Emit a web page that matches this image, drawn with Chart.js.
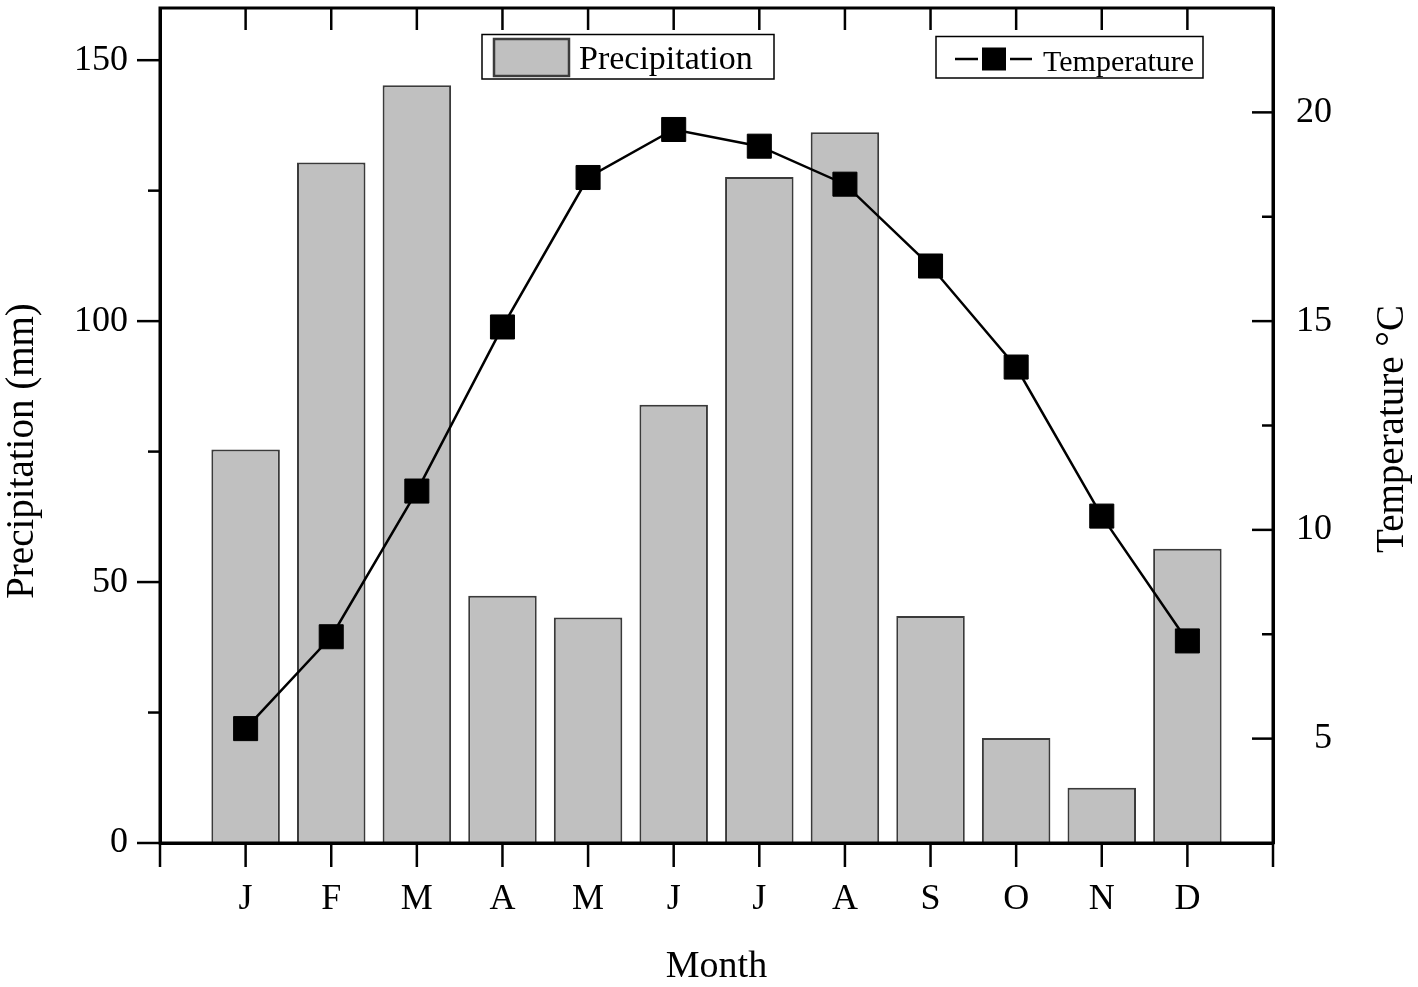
<!DOCTYPE html>
<html>
<head>
<meta charset="utf-8">
<script src="https://cdn.jsdelivr.net/npm/chart.js@4.4.0/dist/chart.umd.min.js"></script>
<style>
  html, body { margin: 0; padding: 0; background: #ffffff; }
  #wrap { width: 1418px; height: 987px; }
</style>
</head>
<body>
<div id="wrap"><canvas id="myChart" width="1418" height="987"></canvas></div>
<script>
const months = ["J", "F", "M", "A", "M", "J", "J", "A", "S", "O", "N", "D"];
const precipitation = [75.4, 130.4, 145.2, 47.4, 43.2, 84.0, 127.6, 136.2, 43.5, 20.1, 10.6, 56.4];
const temperature = [5.24, 7.44, 10.93, 14.86, 18.44, 19.59, 19.19, 18.28, 16.32, 13.90, 10.33, 7.34];
const precipTicks = [0, 50, 100, 150];
const precipMinor = [25, 75, 125];
const tempTicks = [5, 10, 15, 20];
const tempMinor = [7.5, 12.5, 17.5];

const SERIF = "'Liberation Serif', 'Times New Roman', serif";

// x axis runs 0..13, months sit on 1..12
const labels = [""].concat(months, [""]);
const barData = [null].concat(precipitation, [null]);
const lineData = [null].concat(temperature, [null]);

function line(ctx, x1, y1, x2, y2) {
  ctx.beginPath();
  ctx.moveTo(x1, y1);
  ctx.lineTo(x2, y2);
  ctx.stroke();
}

// keep the plot box where the original has it
function noPadding(scale) {
  scale.paddingTop = 0;
  scale.paddingBottom = 0;
  scale.paddingLeft = 0;
  scale.paddingRight = 0;
}

// frame + inward/outward ticks like the original plot
const frameTicks = {
  id: "frameTicks",
  afterDatasetsDraw(chart) {
    const { ctx, chartArea: a, scales } = chart;
    const x = scales.x, y = scales.y, y1 = scales.y1;
    ctx.save();
    ctx.strokeStyle = "#000";
    ctx.lineWidth = 3;
    ctx.strokeRect(a.left, a.top, a.right - a.left, a.bottom - a.top);

    ctx.lineWidth = 2.5;
    for (let i = 0; i < labels.length; i++) {
      const px = x.getPixelForValue(i);
      line(ctx, px, a.bottom, px, a.bottom + 24);
    }
    for (let i = 1; i <= months.length; i++) {
      const px = x.getPixelForValue(i);
      line(ctx, px, a.top, px, a.top + 22);
    }
    precipTicks.forEach((v) => {
      const py = y.getPixelForValue(v);
      line(ctx, a.left - 23, py, a.left, py);
    });
    precipMinor.forEach((v) => {
      const py = y.getPixelForValue(v);
      line(ctx, a.left - 12, py, a.left, py);
    });
    tempTicks.forEach((v) => {
      const py = y1.getPixelForValue(v);
      line(ctx, a.right - 21, py, a.right, py);
    });
    tempMinor.forEach((v) => {
      const py = y1.getPixelForValue(v);
      line(ctx, a.right - 11, py, a.right, py);
    });
    ctx.restore();
  },
  afterDraw(chart) {
    const ctx = chart.ctx;
    ctx.save();
    ctx.fillStyle = "#000";

    // y axis titles (both read bottom-to-top)
    ctx.font = "39px " + SERIF;
    ctx.textAlign = "center";
    ctx.textBaseline = "alphabetic";
    ctx.save();
    ctx.translate(33, 451);
    ctx.rotate(-Math.PI / 2);
    ctx.fillText("Precipitation (mm)", 0, 0);
    ctx.restore();
    ctx.save();
    ctx.translate(1403, 429);
    ctx.rotate(-Math.PI / 2);
    ctx.fillText("Temperature \u00B0C", 0, 0);
    ctx.restore();

    // legend: precipitation
    ctx.lineWidth = 1.5;
    ctx.strokeStyle = "#000";
    ctx.strokeRect(482, 34.5, 292, 44.5);
    ctx.fillStyle = "#c0c0c0";
    ctx.fillRect(494, 39, 75, 37);
    ctx.lineWidth = 2.5;
    ctx.strokeStyle = "#3c3c3c";
    ctx.strokeRect(494, 39, 75, 37);
    ctx.fillStyle = "#000";
    ctx.font = "34px " + SERIF;
    ctx.textAlign = "left";
    ctx.fillText("Precipitation", 579, 69);

    // legend: temperature
    ctx.lineWidth = 1.5;
    ctx.strokeStyle = "#000";
    ctx.strokeRect(936, 36.5, 267, 41.5);
    ctx.lineWidth = 2.5;
    line(ctx, 955, 59, 978, 59);
    line(ctx, 1010, 59, 1032, 59);
    ctx.fillRect(982, 47.5, 24, 23);
    ctx.font = "30px " + SERIF;
    ctx.fillText("Temperature", 1043, 71);
    ctx.restore();
  }
};

const ctx = document.getElementById("myChart").getContext("2d");
new Chart(ctx, {
  type: "bar",
  data: {
    labels: labels,
    datasets: [
      {
        type: "line",
        label: "Temperature",
        data: lineData,
        yAxisID: "y1",
        order: 0,
        borderColor: "#000000",
        borderWidth: 2.5,
        tension: 0,
        pointStyle: "rect",
        pointRadius: 17,
        pointBorderWidth: 1,
        pointBackgroundColor: "#000000",
        pointBorderColor: "#000000",
      },
      {
        type: "bar",
        label: "Precipitation",
        data: barData,
        yAxisID: "y",
        order: 1,
        backgroundColor: "#c0c0c0",
        borderColor: "#3a3a3a",
        borderWidth: 2,
        borderSkipped: "bottom",
        categoryPercentage: 1,
        barPercentage: 0.8,
      },
    ],
  },
  options: {
    responsive: false,
    animation: false,
    devicePixelRatio: 1,
    layout: { autoPadding: false, padding: { top: 8, left: 0, right: 86, bottom: 0 } },
    plugins: {
      legend: { display: false },
      tooltip: { enabled: false },
      title: { display: false },
    },
    scales: {
      x: {
        offset: false,
        grid: { display: false, drawTicks: false },
        border: { display: true, color: "#000", width: 3 },
        ticks: {
          autoSkip: false,
          maxRotation: 0,
          padding: 35,
          color: "#000",
          font: { family: SERIF, size: 36 },
        },
        title: {
          display: true,
          text: "Month",
          color: "#000",
          padding: { top: 0, bottom: 0 },
          font: { family: SERIF, size: 38, lineHeight: 1.05 },
        },
        afterFit(scale) {
          scale.height = 144;
          noPadding(scale);
        },
      },
      y: {
        position: "left",
        min: 0,
        max: 160,
        grid: { display: false, drawTicks: false },
        border: { display: true, color: "#000", width: 3 },
        ticks: {
          padding: 32,
          color: "#000",
          font: { family: SERIF, size: 36 },
        },
        afterBuildTicks(scale) {
          scale.ticks = precipTicks.map((v) => ({ value: v }));
        },
        afterFit(scale) {
          scale.width = 160;
          noPadding(scale);
        },
      },
      y1: {
        position: "right",
        min: 2.5,
        max: 22.5,
        grid: { display: false, drawTicks: false },
        border: { display: true, color: "#000", width: 3 },
        ticks: {
          padding: 21,
          crossAlign: "far",
          color: "#000",
          font: { family: SERIF, size: 36 },
        },
        afterBuildTicks(scale) {
          scale.ticks = tempTicks.map((v) => ({ value: v }));
        },
        afterFit(scale) {
          scale.width = 59;
          noPadding(scale);
        },
      },
    },
  },
  plugins: [frameTicks],
});
</script>
</body>
</html>
